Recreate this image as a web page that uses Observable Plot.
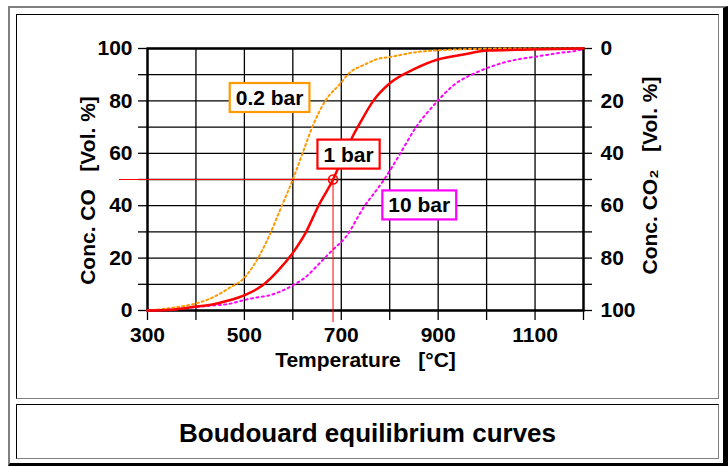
<!DOCTYPE html>
<html><head><meta charset="utf-8">
<script src="https://cdn.jsdelivr.net/npm/d3@7"></script>
<script src="https://cdn.jsdelivr.net/npm/@observablehq/plot@0.6"></script>
<style>
body{margin:0;background:#fff;font-family:Arial,"Liberation Sans",sans-serif;}
#page{position:relative;width:728px;height:466px;overflow:hidden;background:#fff;}
.box{position:absolute;box-sizing:border-box;}
#outer{left:8px;top:6px;width:720px;height:460px;border-top:2px solid #808080;border-left:2px solid #808080;border-right:5px solid #000;border-bottom:3px solid #000;}
#panel{left:16px;top:14px;width:703px;height:385px;border-top:1px solid #000;border-left:1px solid #000;border-right:1px solid #808080;border-bottom:1px solid #808080;}
#capbox{left:16px;top:404px;width:703px;height:55px;border-top:1px solid #000;border-left:1px solid #000;border-right:1px solid #808080;border-bottom:1px solid #808080;
  text-align:center;font-weight:bold;font-size:26px;line-height:55px;padding-top:1px;color:#000;}
#chart{position:absolute;left:0;top:0;}
</style></head>
<body><div id="page">
<div class="box" id="outer"></div>
<div class="box" id="panel"></div>
<div class="box" id="capbox">Boudouard equilibrium curves</div>
<div id="chart"></div>
</div>
<script>
// ---- data ----
const temp02 = [300, 350, 400, 435, 467, 500, 525, 550, 575, 600, 620, 640, 667, 700, 713, 750, 775, 802, 850, 900, 950, 1000, 1050, 1200];
const co02   = [0, 1, 2.7, 5, 8.4, 12.5, 19, 28, 39, 50, 60, 70, 80, 87, 90, 94, 96, 96.8, 98.5, 99.3, 99.7, 99.9, 100, 100];

const temp1 = [300, 350, 400, 434, 467, 502, 537, 570, 600, 626, 653, 683, 694, 725, 740, 766, 802, 849, 899, 952, 1002, 1090, 1200];
const co1   = [0, 0.3, 1.5, 2.3, 3.8, 6, 9.5, 15.3, 22, 29.5, 40, 50, 54.5, 67, 72, 80, 87, 92, 95.8, 97.7, 99.2, 99.6, 100];

const temp10 = [300, 350, 399, 434, 468, 499, 530, 550, 571, 599, 626, 654, 681, 709, 746, 787, 822, 849, 899, 932, 981, 1043, 1105, 1150, 1194, 1200];
const co10   = [0, 0.3, 1.3, 1.9, 2.5, 4, 5.1, 5.7, 7, 9.5, 12.7, 17.8, 22.9, 28, 39.3, 49.6, 60, 68.5, 80, 86, 91, 95, 97, 98.3, 99.5, 100];

const seriesNames = ["0.2 bar", "1 bar", "10 bar"];
const labelTemp = [552, 715, 861];
const labelCO = [81, 59.4, 40];
const seriesColors = ["#FF9900", "#FF0000", "#FF00FF"];

const refTemp = 683, refCO = 50, leaderStartTemp = 242, leaderEndCO = -4.6;

const xTicks = [300, 400, 500, 600, 700, 800, 900, 1000, 1100, 1200];
const xTickLabels = [300, 500, 700, 900, 1100];
const yTicks = [0, 10, 20, 30, 40, 50, 60, 70, 80, 90, 100];
const yTickLabels = [0, 20, 40, 60, 80, 100];

const xTitle = "Temperature\u00A0\u00A0\u00A0[°C]";
const yTitleLeft = "Conc. CO\u00A0\u00A0\u00A0[Vol. %]";
const yTitleRight = "Conc. CO\u2082\u00A0\u00A0\u00A0[Vol. %]";

// ---- build tables ----
const toRows = (ts, cs) => ts.map((t, i) => ({t, co: cs[i]}));
const rows02 = toRows(temp02, co02), rows1 = toRows(temp1, co1), rows10 = toRows(temp10, co10);
const labels = seriesNames.map((name, i) => ({name, t: labelTemp[i], co: labelCO[i], color: seriesColors[i]}));

const font = "Arial, 'Liberation Sans', sans-serif";
const svg = Plot.plot({
  width: 728, height: 400,
  marginLeft: 147, marginRight: 145, marginTop: 48, marginBottom: 90,
  x: {domain: [300, 1200]},
  y: {domain: [0, 100]},
  style: {background: "transparent", fontFamily: font, fontSize: "21px", fontWeight: "bold", color: "#000", overflow: "visible"},
  marks: [
    Plot.ruleX(xTicks, {stroke: "#000", strokeOpacity: 1, strokeWidth: 1.3}),
    Plot.ruleY(yTicks, {stroke: "#000", strokeOpacity: 1, strokeWidth: 1.3}),
    Plot.axisX({ticks: xTicks, tickSize: 10, tickPadding: 7, tickFormat: d => xTickLabels.includes(d) ? String(d) : "", label: null, strokeWidth: 1.3}),
    Plot.axisY({anchor: "left", ticks: yTicks, tickSize: 9, tickPadding: 6, tickFormat: d => yTickLabels.includes(d) ? String(d) : "", label: null, strokeWidth: 1.3}),
    Plot.axisY({anchor: "right", ticks: yTicks, tickSize: 8, tickPadding: 9, tickFormat: d => yTickLabels.includes(d) ? String(100 - d) : "", label: null, strokeWidth: 1.3}),
    Plot.frame({stroke: "#000", strokeWidth: 2.4}),
    Plot.line(rows02, {x: "t", y: "co", stroke: seriesColors[0], strokeWidth: 2, strokeDasharray: "2,3", curve: "monotone-x"}),
    Plot.line(rows10, {x: "t", y: "co", stroke: seriesColors[2], strokeWidth: 2, strokeDasharray: "2,3.5", curve: "monotone-x"}),
    Plot.line(rows1, {x: "t", y: "co", stroke: seriesColors[1], strokeWidth: 2.5, curve: "monotone-x"}),
    Plot.ruleY([refCO], {x1: leaderStartTemp, x2: refTemp, stroke: "#FF0000", strokeWidth: 1}),
    Plot.ruleX([refTemp], {y1: refCO, y2: leaderEndCO, stroke: "#FF0000", strokeWidth: 1}),
    Plot.dot([{t: refTemp, co: refCO}], {x: "t", y: "co", r: 4.5, stroke: "#FF0000", strokeWidth: 1.6, fill: "none"}),
    Plot.text(labels, {x: "t", y: "co", text: "name", fill: "#000", fontSize: 21, fontWeight: "bold"}),
    Plot.text([xTitle], {frameAnchor: "bottom", textAnchor: "middle", lineAnchor: "middle", dy: 50, fontSize: 21, fontWeight: "bold", fill: "#000"}),
    Plot.text([yTitleLeft], {frameAnchor: "left", textAnchor: "middle", lineAnchor: "middle", dx: -59, dy: 11, rotate: -90, fontSize: 21, fontWeight: "bold", fill: "#000"}),
    Plot.text([yTitleRight], {frameAnchor: "right", textAnchor: "middle", lineAnchor: "middle", dx: 67, dy: -4, rotate: -90, fontSize: 21, fontWeight: "bold", fill: "#000"})
  ]
});
document.getElementById("chart").appendChild(svg);

// boxes behind the series labels
const ns = "http://www.w3.org/2000/svg";
svg.querySelectorAll("text").forEach(t => {
  const lab = labels.find(l => l.name === t.textContent);
  if (!lab) return;
  const b = t.getBBox();
  const r = document.createElementNS(ns, "rect");
  r.setAttribute("x", b.x - 6);
  r.setAttribute("y", b.y - 3);
  r.setAttribute("width", b.width + 12);
  r.setAttribute("height", b.height + 6);
  r.setAttribute("fill", "#fff");
  r.setAttribute("stroke", lab.color);
  r.setAttribute("stroke-width", 2.2);
  if (t.getAttribute("transform")) r.setAttribute("transform", t.getAttribute("transform"));
  t.parentNode.insertBefore(r, t);
});
</script>
</body></html>
